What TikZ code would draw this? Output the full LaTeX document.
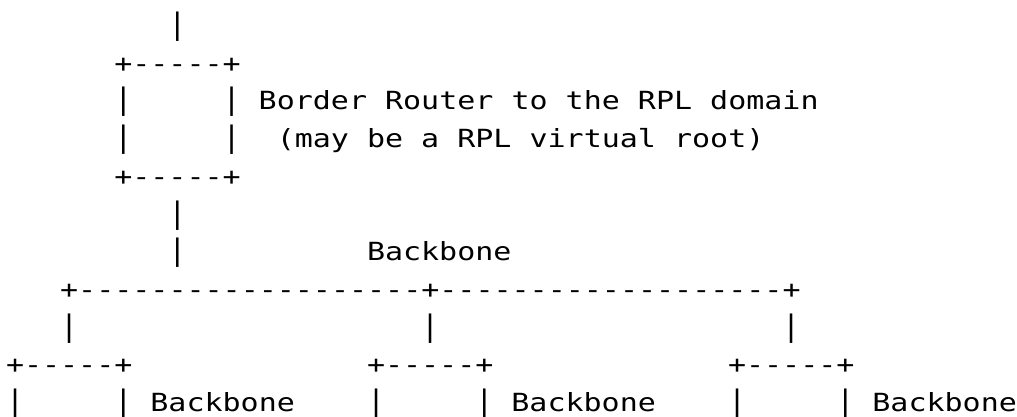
\documentclass[tikz,border=0pt]{standalone}
\usepackage{graphicx}
\usepackage{fontspec}
\setmonofont[FakeStretch=1.2]{DejaVu Sans Mono}
\tikzset{asc/.style={anchor=base west, inner sep=0pt, outer sep=0pt, text=black,
  font=\ttfamily\fontsize{25}{30}\selectfont}}
\newcommand\asccell[4]{\node[asc] (#1) at ({6+#3*18.05},{382.4-(#2-1)*37.7}) {#4};}
\newcommand\ascbar{\scalebox{1}[1.18]{|}}
\begin{document}
\begin{tikzpicture}[x=1pt,y=1pt]
\useasboundingbox (0,0) rectangle (1017,417);
% top link and border router box
\asccell{l1}{1}{9}{\ascbar}
\asccell{brtop}{2}{6}{+-----+}
\asccell{brl3}{3}{6}{\ascbar}
\asccell{brr3}{3}{12}{\ascbar}
\asccell{brlab}{3}{14}{Border Router to the RPL domain}
\asccell{brl4}{4}{6}{\ascbar}
\asccell{brr4}{4}{12}{\ascbar}
\asccell{brlab2}{4}{15}{(may be a RPL virtual root)}
\asccell{brbot}{5}{6}{+-----+}
\asccell{l6}{6}{9}{\ascbar}
\asccell{l7}{7}{9}{\ascbar}
\asccell{bblab}{7}{20}{Backbone}
% backbone
\asccell{bb}{8}{3}{+-------------------+-------------------+}
\asccell{d1}{9}{3}{\ascbar}
\asccell{d2}{9}{23}{\ascbar}
\asccell{d3}{9}{43}{\ascbar}
% lower boxes
\asccell{b1top}{10}{0}{+-----+}
\asccell{b2top}{10}{20}{+-----+}
\asccell{b3top}{10}{40}{+-----+}
\asccell{b1l}{11}{0}{\ascbar}
\asccell{b1r}{11}{6}{\ascbar}
\asccell{b1lab}{11}{8}{Backbone}
\asccell{b2l}{11}{20}{\ascbar}
\asccell{b2r}{11}{26}{\ascbar}
\asccell{b2lab}{11}{28}{Backbone}
\asccell{b3l}{11}{40}{\ascbar}
\asccell{b3r}{11}{46}{\ascbar}
\asccell{b3lab}{11}{48}{Backbone}
\end{tikzpicture}
\end{document}
